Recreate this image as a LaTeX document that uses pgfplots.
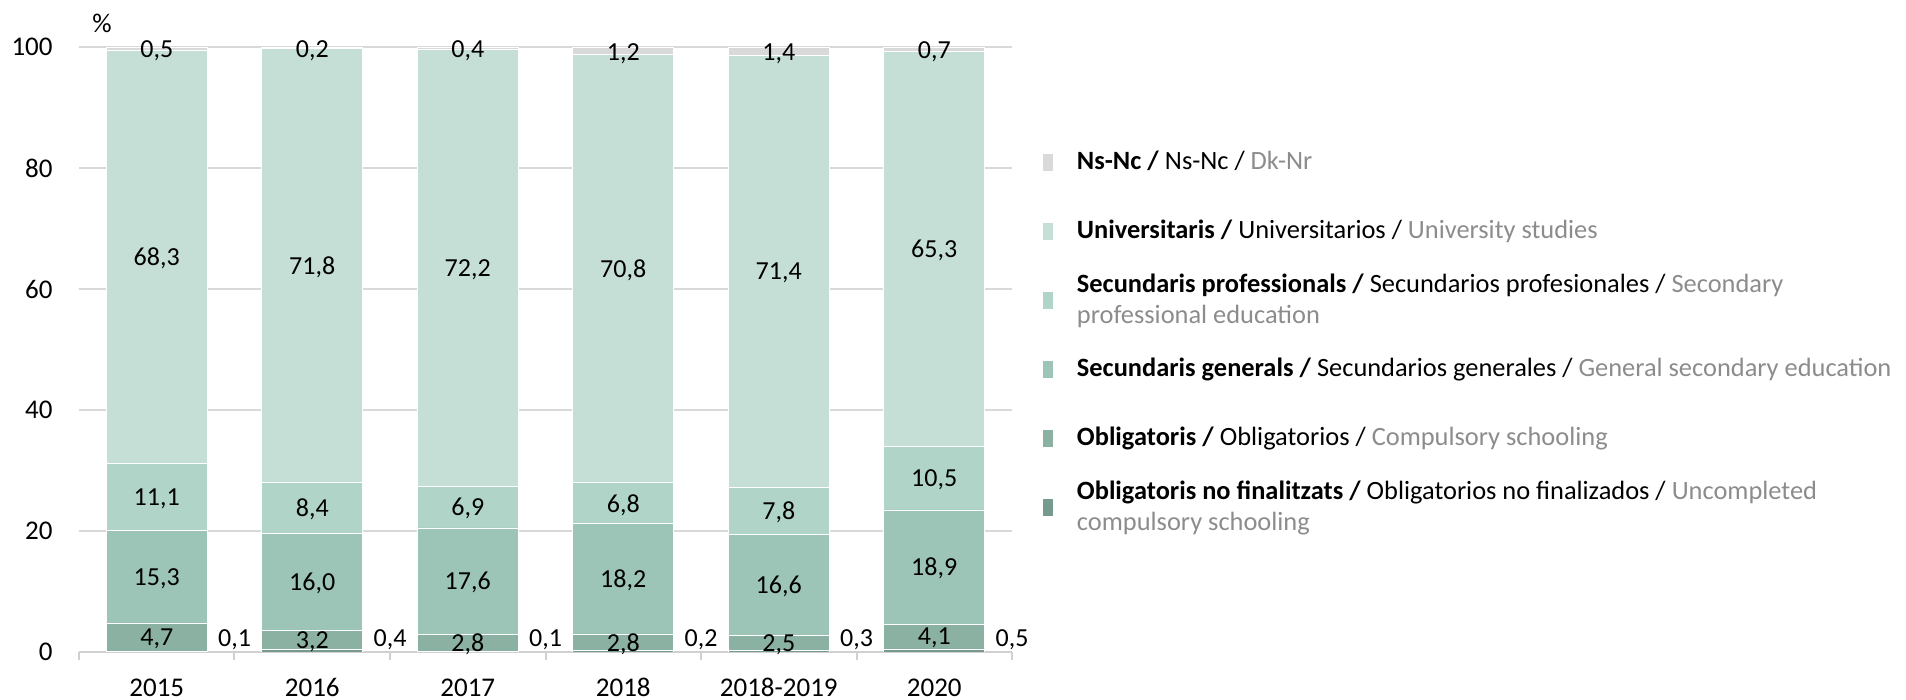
\documentclass[border=0pt]{standalone}
\usepackage{pgfplots}
\pgfplotsset{compat=1.18}
\usepackage{fontspec}
\setmainfont{Carlito}
\definecolor{cF}{HTML}{D9D9D9}
\definecolor{cE}{HTML}{C5DFD6}
\definecolor{cD}{HTML}{B0D5C8}
\definecolor{cC}{HTML}{9DC5B7}
\definecolor{cB}{HTML}{8BB1A3}
\definecolor{cA}{HTML}{769A8D}
\definecolor{gridc}{HTML}{D9D9D9}
\definecolor{axc}{HTML}{D0D0D0}
\definecolor{lg}{HTML}{8C8C8C}
\begin{document}
\begin{tikzpicture}
\begin{axis}[
  scale only axis, width=466.5bp, height=302.5bp,
  ybar stacked, bar width=0.65,
  xmin=-0.5, xmax=5.5, ymin=0, ymax=100,
  xtick={0,1,2,3,4,5},
  xticklabels={2015,2016,2017,2018,2018-2019,2020},
  minor xtick={-0.5,0.5,1.5,2.5,3.5,4.5,5.5},
  ytick={0,20,40,60,80,100},
  ymajorgrids, grid style={draw=gridc, line width=0.6bp},
  axis x line*=bottom, axis y line*=left,
  axis line style={-},
  x axis line style={draw=axc, line width=1bp, -},
  y axis line style={draw=none},
  tick align=outside,
  major tick length=0pt, minor tick length=4bp,
  major x tick style={draw=none},
  minor x tick style={draw=axc, line width=1bp},
  ytick style={draw=none},
  /pgf/number format/assume math mode=true,
  yticklabel style={font=\fontsize{13.5bp}{16bp}\selectfont, anchor=east, inner sep=0pt, xshift=-13bp},
  xticklabel style={font=\fontsize{13.5bp}{16bp}\selectfont, anchor=base, inner sep=0pt, yshift=-22bp},
  ylabel={\%},
  every axis y label/.style={at={(axis description cs:0.0247,1.0397)}, anchor=center, font=\fontsize{13.5bp}{16bp}\selectfont},
  reverse legend,
  legend image code/.code={\draw[#1,draw=none] (0bp,-4.25bp) rectangle (5bp,4.25bp);},
  legend cell align=left,
  legend style={draw=none, fill=none, at={(axis description cs:1.0332,0.8669)}, anchor=north west,
    inner sep=0pt, outer sep=0pt, row sep=0pt, column sep=12bp,
    font=\fontsize{13.2bp}{15.5bp}\selectfont,
    nodes={minimum height=34.5bp, inner sep=0pt, align=left}},
]
\addplot[fill=cA, draw=white, line width=0.3bp] coordinates {(0,0.1) (1,0.4) (2,0.1) (3,0.2) (4,0.3) (5,0.5)};
\addlegendentry{\textbf{Obligatoris no finalitzats /} Obligatorios no finalizados / \textcolor{lg}{Uncompleted}\\\textcolor{lg}{compulsory schooling}}
\addplot[fill=cB, draw=white, line width=0.3bp] coordinates {(0,4.7) (1,3.2) (2,2.8) (3,2.8) (4,2.5) (5,4.1)};
\addlegendentry{\textbf{Obligatoris /} Obligatorios / \textcolor{lg}{Compulsory schooling}}
\addplot[fill=cC, draw=white, line width=0.3bp] coordinates {(0,15.3) (1,16.0) (2,17.6) (3,18.2) (4,16.6) (5,18.9)};
\addlegendentry{\textbf{Secundaris generals /} Secundarios generales / \textcolor{lg}{General secondary education}}
\addplot[fill=cD, draw=white, line width=0.3bp] coordinates {(0,11.1) (1,8.4) (2,6.9) (3,6.8) (4,7.8) (5,10.5)};
\addlegendentry{\textbf{Secundaris professionals /} Secundarios profesionales / \textcolor{lg}{Secondary}\\\textcolor{lg}{professional education}}
\addplot[fill=cE, draw=white, line width=0.3bp] coordinates {(0,68.3) (1,71.8) (2,72.2) (3,70.8) (4,71.4) (5,65.3)};
\addlegendentry{\textbf{Universitaris /} Universitarios / \textcolor{lg}{University studies}}
\addplot[fill=cF, draw=white, line width=0.3bp] coordinates {(0,0.5) (1,0.2) (2,0.4) (3,1.2) (4,1.4) (5,0.7)};
\addlegendentry{\textbf{Ns-Nc /} Ns-Nc / \textcolor{lg}{Dk-Nr}}
\end{axis}
\begin{axis}[
  scale only axis, width=466.5bp, height=302.5bp,
  xmin=-0.5, xmax=5.5, ymin=0, ymax=100, hide axis, clip=false]
\addplot[draw=none, mark=none, nodes near coords, point meta=explicit symbolic,
  every node near coord/.append style={anchor=center, inner sep=0pt, text depth=0pt, text=black,
    font=\fontsize{13bp}{15bp}\selectfont}]
  table[meta=lab] {
x y lab
0 99.6 0,5
1 99.7 0,2
2 99.6 0,4
3 99.2 1,2
4 99.1 1,4
5 99.5 0,7
0 65.35 68,3
1 63.9 71,8
2 63.5 72,2
3 63.4 70,8
4 62.9 71,4
5 66.65 65,3
0 25.65 11,1
1 23.8 8,4
2 23.95 6,9
3 24.6 6,8
4 23.3 7,8
5 28.75 10,5
0 12.45 15,3
1 11.6 16,0
2 11.7 17,6
3 12.1 18,2
4 11.1 16,6
5 14.05 18,9
0 2.45 4,7
1 2.0 3,2
2 1.5 2,8
3 1.6 2,8
4 1.55 2,5
5 2.55 4,1
0.5 2.3 0,1
1.5 2.3 0,4
2.5 2.3 0,1
3.5 2.3 0,2
4.5 2.3 0,3
5.5 2.3 0,5
};
\end{axis}
\pgfresetboundingbox
\useasboundingbox (-39.5bp,-24bp) rectangle (913.5bp,326bp);
\end{tikzpicture}
\end{document}
